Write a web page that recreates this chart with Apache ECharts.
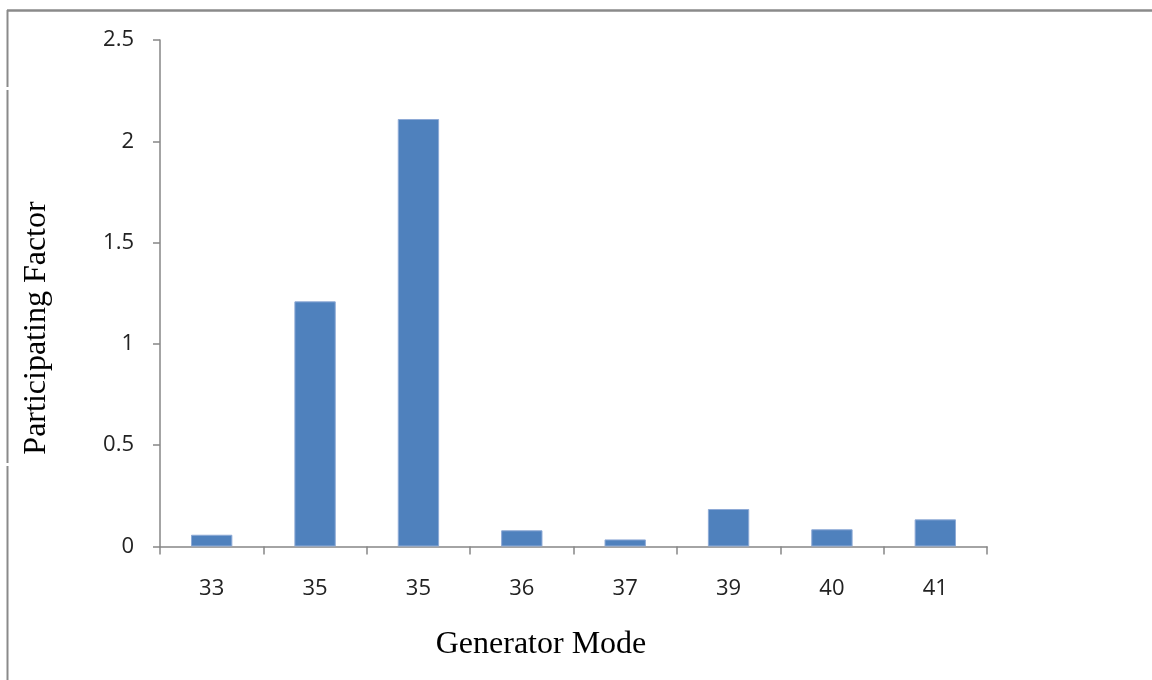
<!DOCTYPE html>
<html>
<head>
<meta charset="utf-8">
<script src="https://cdn.jsdelivr.net/npm/echarts@6/dist/echarts.min.js"></script>
<style>html,body{margin:0;padding:0;background:#fff}#c{width:1152px;height:680px}</style>
</head>
<body>
<div id="c"></div>
<script>
const categories = ['33', '35', '35', '36', '37', '39', '40', '41'];
const values = [0.058, 1.21, 2.11, 0.08, 0.035, 0.185, 0.085, 0.134];
const yTicks = { min: 0, max: 2.5, interval: 0.5 };
const xTitle = 'Generator Mode';
const yTitle = 'Participating Factor';

const chart = echarts.init(document.getElementById('c'), null, { renderer: 'canvas' });
const axisGray = '#868686';
chart.setOption({
  animation: false,
  backgroundColor: '#ffffff',
  grid: { left: 160, right: 165, top: 40, bottom: 133.5, containLabel: false },
  xAxis: {
    type: 'category',
    data: categories,
    axisLine: { lineStyle: { color: axisGray, width: 1.5 } },
    axisTick: { show: true, alignWithLabel: false, length: 8, lineStyle: { color: axisGray, width: 1.5 } },
    axisLabel: { margin: 31, fontFamily: 'Open Sans', fontSize: 22, color: '#222' },
    splitLine: { show: false }
  },
  yAxis: {
    type: 'value',
    min: yTicks.min, max: yTicks.max, interval: yTicks.interval,
    axisLine: { show: true, lineStyle: { color: axisGray, width: 1.5 } },
    axisTick: { show: true, length: 7, lineStyle: { color: axisGray, width: 1.5 } },
    axisLabel: { margin: 26, fontFamily: 'Open Sans', fontSize: 22, color: '#222' },
    splitLine: { show: false }
  },
  series: [{
    type: 'bar',
    data: values,
    barWidth: '40%',
    itemStyle: { color: '#4f81bd', borderColor: '#8eaad6', borderWidth: 1 }
  }],
  graphic: [
    { type: 'line', shape: { x1: 7, y1: 10.5, x2: 1152, y2: 10.5 }, style: { stroke: '#8a8a8a', lineWidth: 2.5 } },
    { type: 'line', shape: { x1: 7.5, y1: 10, x2: 7.5, y2: 87 }, style: { stroke: '#8a8a8a', lineWidth: 2 } },
    { type: 'line', shape: { x1: 7.5, y1: 90, x2: 7.5, y2: 463 }, style: { stroke: '#8a8a8a', lineWidth: 2 } },
    { type: 'line', shape: { x1: 7.5, y1: 466, x2: 7.5, y2: 680 }, style: { stroke: '#8a8a8a', lineWidth: 2 } },
    { type: 'text', x: 541, y: 645, style: { text: xTitle, font: '32px "Liberation Serif"', fill: '#000', textAlign: 'center', textVerticalAlign: 'middle' } },
    { type: 'text', x: 37, y: 328, rotation: Math.PI / 2, style: { text: yTitle, font: '32px "Liberation Serif"', fill: '#000', textAlign: 'center', textVerticalAlign: 'middle' } }
  ]
});
</script>
</body>
</html>
